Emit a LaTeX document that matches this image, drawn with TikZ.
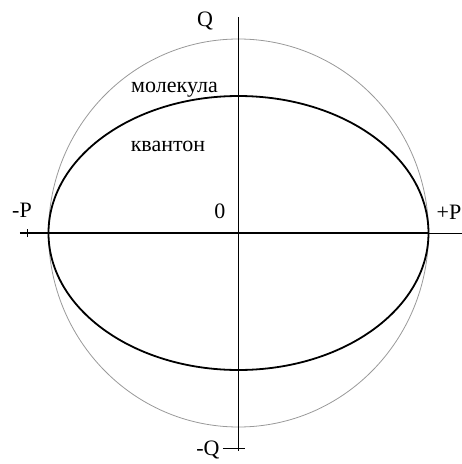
\documentclass[tikz,border=0pt]{standalone}
\usepackage{fontspec}
\setmainfont{Liberation Serif}
\usetikzlibrary{positioning}

\begin{document}
\begin{tikzpicture}[x=1pt,y=1pt,
    axis/.style={black, line width=1.5pt},
    lbl/.style={font=\fontsize{22}{26}\selectfont, inner sep=0pt}]
    \useasboundingbox (-238.5,-231) rectangle (223.5,233);

    % Outer circle (molecule)
    \draw[gray!80, line width=0.8pt] (0,0) ellipse (190 and 194);

    % Inner ellipse (quanton)
    \draw[black, line width=1.8pt] (0,0) ellipse (190 and 137);

    % Axes
    \coordinate (pl) at (-218.5,0);
    \coordinate (pr) at (223.5,0);
    \coordinate (qt) at (0,216);
    \coordinate (qb) at (0,-218);
    \draw[axis] (pl) -- (190,0);
    \draw[black, line width=0.9pt] (190,0) -- (pr);
    \draw[axis] (qt) -- (qb);

    % Small ticks
    \draw[black, line width=0.6pt] (-211,-4) -- (-211,4);
    \draw[black, line width=0.8pt] (-15.5,-215) -- (6.5,-215);

    % Labels
    \node[lbl] (q)  at (-33.5,212) {Q};
    \node[lbl] (mq) at (-30.5,-217) {-Q};
    \node[lbl] (mp) at (-216.5,23) {-P};
    \node[lbl] (pp) at (210.5,21) {+P};
    \node[lbl] (o)  at (-18.5,22) {0};
    \node[lbl] (mol) at (-64,143) {молекула};
    \node[lbl] (kv)  at (-70.5,87) {квантон};
\end{tikzpicture}
\end{document}
